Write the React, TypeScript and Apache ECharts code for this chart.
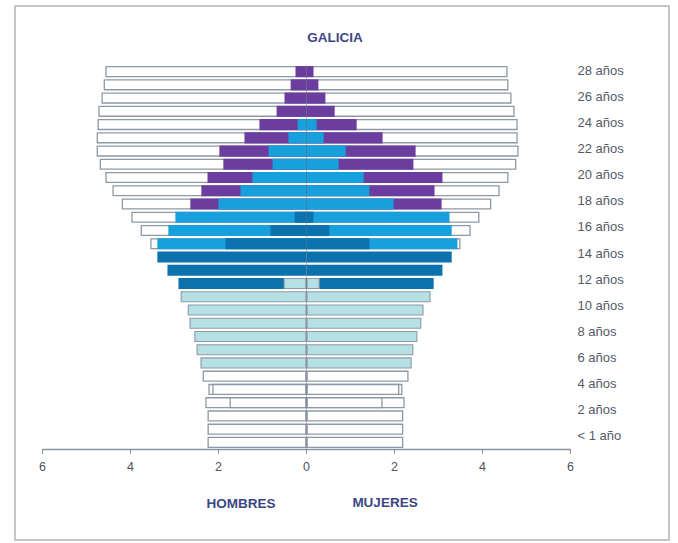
import React, { useEffect, useRef } from "react";
import * as echarts from "echarts";

const ages: string[] = ["< 1 año", "1 año", "2 años", "3 años", "4 años", "5 años", "6 años", "7 años", "8 años", "9 años", "10 años", "11 años", "12 años", "13 años", "14 años", "15 años", "16 años", "17 años", "18 años", "19 años", "20 años", "21 años", "22 años", "23 años", "24 años", "25 años", "26 años", "27 años", "28 años"];

// values per age (0..28), null = no bar
const N = null;
const whiteH = [2.25, 2.25, 2.25, 2.3, 2.23, 2.36, N, N, N, N, N, N, N, N, N, 3.55, 3.77, 3.98, 4.2, 4.41, 4.57, 4.7, 4.77, 4.77, 4.75, 4.73, 4.66, 4.61, 4.57];
const whiteM = [2.2, 2.2, 2.2, 2.23, 2.18, 2.32, N, N, N, N, N, N, N, N, N, 3.5, 3.73, 3.93, 4.2, 4.39, 4.59, 4.77, 4.82, 4.8, 4.8, 4.73, 4.66, 4.59, 4.57];
const white2H = [N, N, N, 1.75, 2.14, N, N, N, N, N, N, N, N, N, N, N, N, N, N, N, N, N, N, N, N, N, N, N, N];
const white2M = [N, N, N, 1.73, 2.11, N, N, N, N, N, N, N, N, N, N, N, N, N, N, N, N, N, N, N, N, N, N, N, N];
const purpleH = [N, N, N, N, N, N, N, N, N, N, N, N, N, N, N, N, N, N, 2.64, 2.39, 2.25, 1.89, 1.98, 1.41, 1.07, 0.68, 0.5, 0.36, 0.25];
const purpleM = [N, N, N, N, N, N, N, N, N, N, N, N, N, N, N, N, N, N, 3.07, 2.91, 3.09, 2.43, 2.48, 1.73, 1.14, 0.64, 0.43, 0.27, 0.16];
const blueH = [N, N, N, N, N, N, N, N, N, N, N, N, N, N, N, 3.39, 3.14, 2.98, 2.0, 1.5, 1.23, 0.77, 0.86, 0.41, 0.2, N, N, N, N];
const blueM = [N, N, N, N, N, N, N, N, N, N, N, N, N, N, N, 3.43, 3.3, 3.25, 1.98, 1.43, 1.3, 0.73, 0.89, 0.39, 0.23, N, N, N, N];
const darkH = [N, N, N, N, N, N, N, N, N, N, N, N, 2.91, 3.16, 3.39, 1.84, 0.82, 0.27, N, N, N, N, N, N, N, N, N, N, N];
const darkM = [N, N, N, N, N, N, N, N, N, N, N, N, 2.89, 3.09, 3.3, 1.43, 0.52, 0.16, N, N, N, N, N, N, N, N, N, N, N];
const cyanH = [N, N, N, N, N, N, 2.41, 2.5, 2.55, 2.66, 2.7, 2.86, 0.52, N, N, N, N, N, N, N, N, N, N, N, N, N, N, N, N];
const cyanM = [N, N, N, N, N, N, 2.39, 2.43, 2.52, 2.61, 2.66, 2.82, 0.3, N, N, N, N, N, N, N, N, N, N, N, N, N, N, N, N];

const neg = (a: (number | null)[]) => a.map((v) => (v == null ? null : -v));

export default function App() {
  const ref = useRef<HTMLDivElement>(null);
  useEffect(() => {
    if (!ref.current) return;
    const chart = echarts.init(ref.current, null, { renderer: "svg" });
    const layers = [
      { name: "w", h: whiteH, m: whiteM, color: "#ffffff", border: "#8e99a5", bw: 1.3 },
      { name: "w2", h: white2H, m: white2M, color: "#ffffff", border: "#8e99a5", bw: 1.3 },
      { name: "p", h: purpleH, m: purpleM, color: "#6b3d9e", border: "#6b3d9e", bw: 0 },
      { name: "b", h: blueH, m: blueM, color: "#18a0dc", border: "#18a0dc", bw: 0 },
      { name: "d", h: darkH, m: darkM, color: "#0b72ad", border: "#0b72ad", bw: 0 },
      { name: "c", h: cyanH, m: cyanM, color: "#b6e1e4", border: "#8e99a5", bw: 1.1 },
    ];
    const series: any[] = [];
    layers.forEach((l, li) => {
      [neg(l.h), l.m].forEach((data, i) => {
        const s: any = {
          type: "bar",
          name: l.name + i,
          data,
          xAxisIndex: 0,
          yAxisIndex: 0,
          barGap: "-100%",
          barCategoryGap: "16%",
          itemStyle: { color: l.color, borderColor: l.border, borderWidth: l.bw },
          emphasis: { disabled: true },
        };
        if (li === layers.length - 1 && i === 1) {
          s.markLine = {
            silent: true,
            symbol: "none",
            label: { show: false },
            lineStyle: { color: "#5f6a78", width: 0.8, type: "solid", opacity: 0.55 },
            data: [{ xAxis: 0 }],
          };
        }
        series.push(s);
      });
    });
    series.push({
      type: "bar",
      name: "labels",
      data: ages.map(() => null),
      xAxisIndex: 1,
      yAxisIndex: 1,
      silent: true,
    });
    const font = "Liberation Sans, Arial";
    chart.setOption({
      animation: false,
      backgroundColor: "#ffffff",
      grid: [
        { left: 42.5, right: 107.5, top: 65, bottom: 94 },
        { left: 42.5, right: 107.5, top: 63.5, bottom: 100.5 },
      ],
      xAxis: [
        {
          type: "value",
          gridIndex: 0,
          min: -6,
          max: 6,
          interval: 2,
          axisLine: { show: true, lineStyle: { color: "#8a929c", width: 1.3 } },
          axisTick: { show: true, length: 5, lineStyle: { color: "#8a929c" } },
          splitLine: { show: false },
          axisLabel: {
            color: "#4d525c",
            fontSize: 12.5,
            fontFamily: font,
            margin: 11,
            formatter: (v: number) => String(Math.abs(v)),
          },
        },
        {
          type: "value",
          gridIndex: 1,
          min: -6,
          max: 6,
          show: false,
        },
      ],
      yAxis: [
        {
          type: "category",
          gridIndex: 0,
          data: ages,
          axisLine: { show: false },
          axisTick: { show: false },
          axisLabel: { show: false },
        },
        {
          type: "category",
          gridIndex: 1,
          data: ages,
          position: "right",
          axisLine: { show: false },
          axisTick: { show: false },
          splitLine: { show: false },
          axisLabel: {
            interval: 1,
            color: "#555a66",
            fontSize: 13,
            fontFamily: font,
            margin: 7,
            align: "left",
          },
        },
      ],
      graphic: [
        { type: "rect", shape: { x: 15, y: 6, width: 654, height: 534 }, style: { fill: "none", stroke: "#b4b4b4", lineWidth: 1.5 }, z: -1 },
        { type: "text", x: 335, y: 37, style: { text: "GALICIA", fill: "#3b4785", font: "bold 13.5px Liberation Sans, Arial", textAlign: "center", textVerticalAlign: "middle" } },
        { type: "text", x: 241, y: 503, style: { text: "HOMBRES", fill: "#3b4785", font: "bold 13.5px Liberation Sans, Arial", textAlign: "center", textVerticalAlign: "middle" } },
        { type: "text", x: 385, y: 502, style: { text: "MUJERES", fill: "#3b4785", font: "bold 13.5px Liberation Sans, Arial", textAlign: "center", textVerticalAlign: "middle" } },
      ],
      series,
    });
    return () => chart.dispose();
  }, []);
  return <div ref={ref} style={{ position: "absolute", left: 0, top: 0, width: 678, height: 543 }} />;
}
